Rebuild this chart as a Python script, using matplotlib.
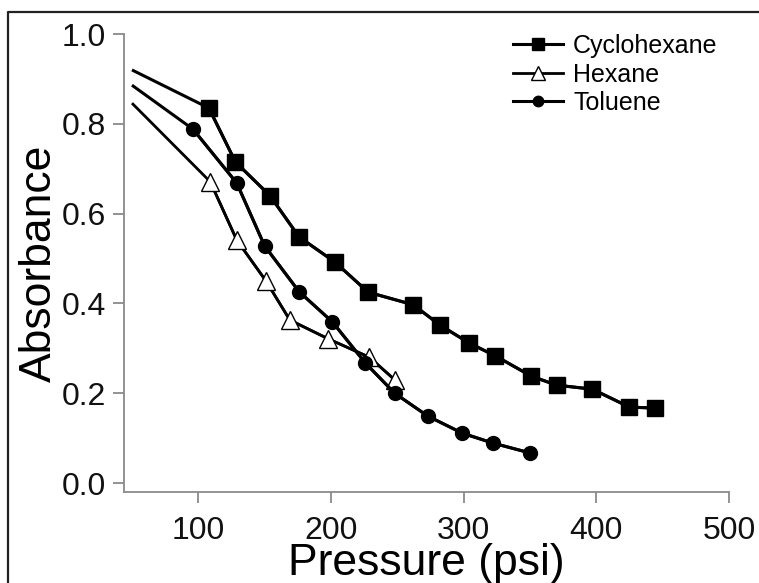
import matplotlib
matplotlib.use("Agg")
import matplotlib.pyplot as plt
from matplotlib.lines import Line2D

plt.rcParams["font.family"] = ["Liberation Sans", "DejaVu Sans"]

# basinc (psi) / absorbans; ilk nokta isaretsiz baslangic
cyc_p = [50, 108, 128, 154, 176, 203, 228, 262, 282, 304, 324, 351, 370, 397, 425, 444]
cyc_a = [0.92, 0.835, 0.715, 0.64, 0.548, 0.492, 0.425, 0.397, 0.352, 0.312, 0.283,
         0.238, 0.218, 0.209, 0.169, 0.167]
hex_p = [50, 109, 129, 151, 169, 198, 229, 248]
hex_a = [0.846, 0.671, 0.541, 0.45, 0.363, 0.321, 0.28, 0.23]
tol_p = [50, 96, 129, 150, 176, 201, 226, 248, 273, 299, 322, 350]
tol_a = [0.886, 0.788, 0.668, 0.528, 0.426, 0.359, 0.267, 0.2, 0.149, 0.111, 0.089, 0.067]

xticks = [100, 200, 300, 400, 500]
yticks = [0.0, 0.2, 0.4, 0.6, 0.8, 1.0]

W, H = 759, 583
fig = plt.figure(figsize=(W / 100, H / 100), dpi=100)
ax = fig.add_axes([124 / W, 1 - 492 / H, (729 - 124) / W, (492 - 34) / H])

seriler = [
    (cyc_p, cyc_a, "Cyclohexane", dict(marker="s", ms=12, mfc="black", mec="black", lw=2.2)),
    (hex_p, hex_a, "Hexane", dict(marker="^", ms=13, mfc="white", mec="black", mew=1.0, lw=2.0)),
    (tol_p, tol_a, "Toluene", dict(marker="o", ms=10, mfc="black", mec="black", lw=2.2)),
]
for px, ay, ad, st in seriler:
    ax.plot(px, ay, color="black", lw=st["lw"], solid_capstyle="butt")
    ax.plot(px[1:], ay[1:], color="black", label=ad, **st)

ax.set_xlim(44, 500)
ax.set_ylim(-0.02, 1.0)
ax.set_xticks(xticks)
ax.set_yticks(yticks)
ax.set_yticklabels(["%.1f" % v for v in yticks])

for s in ("top", "right"):
    ax.spines[s].set_visible(False)
for s in ("left", "bottom"):
    ax.spines[s].set_color("#8a8a8a")
    ax.spines[s].set_linewidth(1.3)
ax.tick_params(direction="out", length=8, width=1.3, color="#8a8a8a",
               labelsize=23, labelcolor="#111111")
ax.tick_params(axis="y", pad=5)
ax.tick_params(axis="x", pad=9)

ax.set_xlabel("Pressure (psi)", fontsize=32, labelpad=-2)
ax.set_ylabel("Absorbance", fontsize=32, labelpad=1)

ax.legend(loc="upper left", bbox_to_anchor=(513 / W, 1 - 34 / H),
          bbox_transform=fig.transFigure, frameon=False, fontsize=18,
          handlelength=2.0, handletextpad=0.4, labelspacing=0.18,
          markerscale=0.75, borderpad=0, borderaxespad=0)

# sol ve ust cerceve cizgisi
fx = 7.5 / W
fy = 1 - 11.7 / H
fig.add_artist(Line2D([fx, fx, 1.0], [0.0, fy, fy], transform=fig.transFigure,
                      color="#222222", lw=1.6))

fig.savefig("out.png", dpi=100)
